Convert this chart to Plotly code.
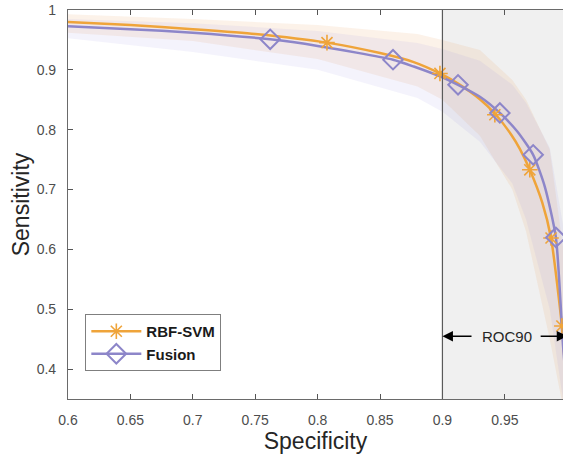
import plotly.graph_objects as go

# ---- data ----
svm_x = [0.60, 0.65, 0.70, 0.75, 0.8075, 0.85, 0.877, 0.898, 0.9125, 0.930, 0.942, 0.955, 0.962, 0.970, 0.980, 0.987, 0.9957, 1.0]
svm_y = [0.980, 0.975, 0.968, 0.960, 0.9455, 0.928, 0.913, 0.894, 0.877, 0.851, 0.827, 0.792, 0.768, 0.733, 0.678, 0.619, 0.472, 0.35]
svm_mx = [0.8075, 0.898, 0.942, 0.970, 0.987, 0.9957]
svm_my = [0.9455, 0.894, 0.825, 0.733, 0.619, 0.472]

fus_x = [0.60, 0.65, 0.70, 0.762, 0.80, 0.8604, 0.877, 0.898, 0.9125, 0.930, 0.946, 0.960, 0.9727, 0.982, 0.9909, 0.9966, 1.0]
fus_y = [0.973, 0.968, 0.962, 0.951, 0.940, 0.917, 0.9055, 0.889, 0.875, 0.855, 0.828, 0.797, 0.758, 0.705, 0.620, 0.440, 0.35]
fus_mx = [0.762, 0.8604, 0.9125, 0.946, 0.9727, 0.9909]
fus_my = [0.951, 0.917, 0.875, 0.828, 0.758, 0.620]

band_x = [0.60, 0.70, 0.80, 0.88, 0.90, 0.93, 0.956, 0.967, 0.986, 1.0]
svm_hi = [0.993, 0.985, 0.975, 0.960, 0.950, 0.933, 0.883, 0.850, 0.767, 0.55]
svm_lo = [0.962, 0.948, 0.918, 0.872, 0.850, 0.790, 0.700, 0.630, 0.450, 0.30]
fus_hi = [0.985, 0.978, 0.965, 0.945, 0.935, 0.915, 0.875, 0.845, 0.770, 0.60]
fus_lo = [0.953, 0.930, 0.900, 0.853, 0.830, 0.780, 0.710, 0.650, 0.500, 0.30]

x_ticks = [0.6, 0.65, 0.7, 0.75, 0.8, 0.85, 0.9, 0.95, 1.0]
y_ticks = [0.4, 0.5, 0.6, 0.7, 0.8, 0.9, 1.0]
roc_start, roc_end = 0.9, 1.0
roc_label = "ROC90"
roc_label_y = 0.455

ORANGE = "#EFA43A"
PURPLE = "#8D86C9"
FONT = "Liberation Sans, Arial, sans-serif"

fig = go.Figure()

# confidence bands
fig.add_trace(go.Scatter(x=band_x + band_x[::-1], y=svm_hi + svm_lo[::-1], fill="toself",
                         fillcolor="rgba(235,170,110,0.15)", line=dict(width=0),
                         hoverinfo="skip", showlegend=False, mode="lines"))
fig.add_trace(go.Scatter(x=band_x + band_x[::-1], y=fus_hi + fus_lo[::-1], fill="toself",
                         fillcolor="rgba(150,140,225,0.10)", line=dict(width=0),
                         hoverinfo="skip", showlegend=False, mode="lines"))

# mean curves
fig.add_trace(go.Scatter(x=svm_x, y=svm_y, mode="lines", line=dict(color=ORANGE, width=2.5, shape="spline", smoothing=0.6),
                         showlegend=False))
fig.add_trace(go.Scatter(x=fus_x, y=fus_y, mode="lines", line=dict(color=PURPLE, width=2.5, shape="spline", smoothing=0.6),
                         showlegend=False))
# markers
fig.add_trace(go.Scatter(x=svm_mx, y=svm_my, mode="markers", showlegend=False,
                         marker=dict(symbol="asterisk-open", size=13, color=ORANGE,
                                     line=dict(color=ORANGE, width=1.6))))
fig.add_trace(go.Scatter(x=fus_mx, y=fus_my, mode="markers", showlegend=False,
                         marker=dict(symbol="diamond-open", size=15, color=PURPLE,
                                     line=dict(color=PURPLE, width=2))))
# legend entries
fig.add_trace(go.Scatter(x=[None], y=[None], mode="lines+markers", name="RBF-SVM",
                         line=dict(color=ORANGE, width=2.5),
                         marker=dict(symbol="asterisk-open", size=13, color=ORANGE,
                                     line=dict(color=ORANGE, width=1.6))))
fig.add_trace(go.Scatter(x=[None], y=[None], mode="lines+markers", name="Fusion",
                         line=dict(color=PURPLE, width=2.5),
                         marker=dict(symbol="diamond-open", size=15, color=PURPLE,
                                     line=dict(color=PURPLE, width=2))))

# ROC90 region
fig.add_shape(type="rect", xref="x", yref="paper", x0=roc_start, x1=roc_end, y0=0, y1=1,
              fillcolor="#F0F0F0", line=dict(width=0), layer="below")
fig.add_shape(type="line", xref="x", yref="paper", x0=roc_start, x1=roc_start, y0=0, y1=1,
              line=dict(color="#5a5a5a", width=1.2), layer="above")

fig.add_annotation(x=roc_start, y=roc_label_y, ax=roc_start + 0.0245, ay=roc_label_y,
                   xref="x", yref="y", axref="x", ayref="y", text="", showarrow=True,
                   arrowhead=2, arrowsize=1.4, arrowwidth=1.5, arrowcolor="black", standoff=0)
fig.add_annotation(x=roc_end, y=roc_label_y, ax=roc_end - 0.0225, ay=roc_label_y,
                   xref="x", yref="y", axref="x", ayref="y", text="", showarrow=True,
                   arrowhead=2, arrowsize=1.4, arrowwidth=1.5, arrowcolor="black", standoff=0)
fig.add_annotation(x=(roc_start + roc_end) / 2 + 0.0015, y=roc_label_y, xref="x", yref="y",
                   text=roc_label, showarrow=False,
                   font=dict(family=FONT, size=15, color="#262626"))

axis_font = dict(family=FONT, size=14, color="#4d4d4d")
fig.update_xaxes(range=[0.6, 0.9966], tickvals=x_ticks, ticks="inside", ticklen=5,
                 tickcolor="#555", showline=True, linecolor="#6a6a6a", linewidth=1.2,
                 mirror="ticks", showgrid=False, zeroline=False, tickfont=axis_font,
                 ticklabelstandoff=8,
                 title=dict(text="Specificity", standoff=4,
                            font=dict(family=FONT, size=23, color="#262626")))
fig.update_yaxes(range=[0.35, 1.0], tickvals=y_ticks, ticks="inside", ticklen=5,
                 tickcolor="#555", showline=True, linecolor="#6a6a6a", linewidth=1.2,
                 mirror=False, showgrid=False, zeroline=False, tickfont=axis_font,
                 ticklabelstandoff=8,
                 title=dict(text="Sensitivity", standoff=0,
                            font=dict(family=FONT, size=23, color="#262626")))

fig.update_layout(
    width=563, height=461,
    margin=dict(l=68, r=0, t=10, b=62, autoexpand=False),
    plot_bgcolor="white", paper_bgcolor="white",
    legend=dict(x=0.035, y=0.2185, xanchor="left", yanchor="top",
                bgcolor="white", bordercolor="#7f7f7f", borderwidth=1,
                font=dict(family=FONT, size=15, color="#1a1a1a", weight="bold"),
                tracegroupgap=0, itemwidth=50),
)

fig.write_html(
    "out.html",
    config={"displayModeBar": False},
    post_script=(
        "document.documentElement.style.margin='0';"
        "document.body.style.margin='0';document.body.style.overflow='hidden';"
        "var gd=document.getElementById('{plot_id}');"
        "Plotly.relayout(gd,{width:563,height:461});"
    ),
)
